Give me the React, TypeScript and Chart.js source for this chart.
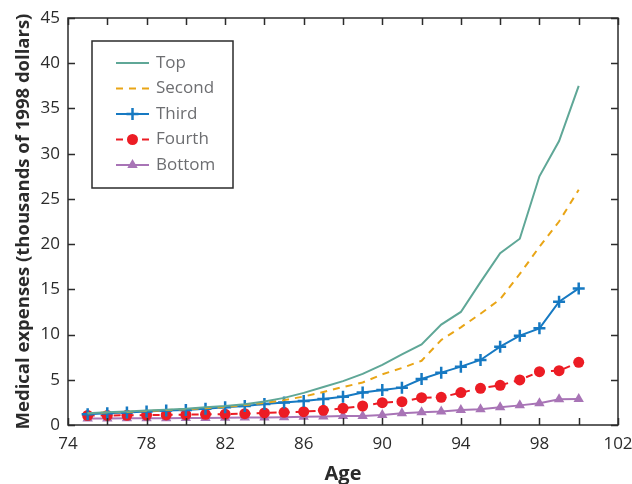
import React, { useEffect, useRef } from "react";
import { Chart, registerables } from "chart.js";

Chart.register(...registerables);

// Age at which expenses are measured
const ages = [75, 76, 77, 78, 79, 80, 81, 82, 83, 84, 85, 86, 87, 88, 89, 90, 91, 92, 93, 94, 95, 96, 97, 98, 99, 100];

// Medical expenses by income quintile (thousands of 1998 dollars)
const topQuintile = [1.3, 1.4, 1.5, 1.6, 1.7, 1.8, 1.95, 2.1, 2.3, 2.6, 3.0, 3.55, 4.2, 4.85, 5.65, 6.65, 7.8, 8.9, 11.1, 12.5, 15.8, 19.0, 20.6, 27.5, 31.4, 37.5];
const secondQuintile = [1.3, 1.4, 1.45, 1.55, 1.65, 1.75, 1.85, 2.0, 2.2, 2.45, 2.75, 3.15, 3.65, 4.2, 4.7, 5.6, 6.3, 7.1, 9.4, 10.8, 12.3, 13.9, 16.7, 19.7, 22.5, 26.0];
const thirdQuintile = [1.2, 1.29, 1.37, 1.48, 1.59, 1.66, 1.81, 1.95, 2.1, 2.32, 2.5, 2.65, 2.87, 3.13, 3.6, 3.87, 4.13, 5.09, 5.79, 6.45, 7.19, 8.66, 9.88, 10.69, 13.64, 15.1];
const fourthQuintile = [1.05, 1.06, 1.07, 1.1, 1.11, 1.14, 1.18, 1.2, 1.25, 1.33, 1.4, 1.47, 1.62, 1.84, 2.1, 2.47, 2.58, 3.02, 3.06, 3.58, 4.06, 4.39, 4.98, 5.9, 6.0, 6.93];
const bottomQuintile = [0.72, 0.73, 0.74, 0.75, 0.76, 0.77, 0.78, 0.8, 0.82, 0.84, 0.87, 0.9, 0.95, 1.0, 1.0, 1.1, 1.29, 1.4, 1.48, 1.66, 1.73, 1.95, 2.17, 2.4, 2.84, 2.87];

const seriesNames = ["Top", "Second", "Third", "Fourth", "Bottom"];

const xMin = 74;
const xMax = 102;
const yMin = 0;
const yMax = 45;

const FONT = "'Open Sans', 'Noto Sans', sans-serif";
const AXIS_COLOR = "#2b2b2b";

function toPoints(values: number[]) {
  return ages.map((a, i) => ({ x: a, y: values[i] }));
}

// Frame around the plot area with inward-pointing tick marks on all four sides
const framePlugin = {
  id: "frameTicks",
  afterDatasetsDraw(chart: any) {
    const { ctx, chartArea, scales } = chart;
    const { left, right, top, bottom } = chartArea;
    const len = 7;
    ctx.save();
    ctx.strokeStyle = AXIS_COLOR;
    ctx.lineWidth = 1.5;
    ctx.strokeRect(left, top, right - left, bottom - top);
    ctx.beginPath();
    for (const t of scales.x.ticks) {
      const px = Math.round(scales.x.getPixelForValue(t.value)) + 0.5;
      ctx.moveTo(px, bottom);
      ctx.lineTo(px, bottom - len);
      ctx.moveTo(px, top);
      ctx.lineTo(px, top + len);
    }
    for (const t of scales.y.ticks) {
      const py = Math.round(scales.y.getPixelForValue(t.value)) + 0.5;
      ctx.moveTo(left, py);
      ctx.lineTo(left + len, py);
      ctx.moveTo(right, py);
      ctx.lineTo(right - len, py);
    }
    ctx.stroke();
    ctx.restore();
  },
};

function drawMarker(ctx: CanvasRenderingContext2D, style: string, x: number, y: number, r: number, color: string) {
  ctx.save();
  ctx.fillStyle = color;
  ctx.strokeStyle = color;
  if (style === "circle") {
    ctx.beginPath();
    ctx.arc(x, y, r, 0, Math.PI * 2);
    ctx.fill();
  } else if (style === "cross") {
    ctx.lineWidth = 2.5;
    ctx.beginPath();
    ctx.moveTo(x - r, y);
    ctx.lineTo(x + r, y);
    ctx.moveTo(x, y - r);
    ctx.lineTo(x, y + r);
    ctx.stroke();
  } else if (style === "triangle") {
    const h = r * 1.5;
    ctx.beginPath();
    ctx.moveTo(x, y - r);
    ctx.lineTo(x + h / Math.sqrt(3), y - r + h);
    ctx.lineTo(x - h / Math.sqrt(3), y - r + h);
    ctx.closePath();
    ctx.fill();
  }
  ctx.restore();
}

// Boxed legend in the upper-left of the plot area
const legendPlugin = {
  id: "boxedLegend",
  afterDraw(chart: any) {
    const { ctx, chartArea } = chart;
    const boxX = chartArea.left + 24;
    const boxY = chartArea.top + 23;
    const boxW = 141;
    const boxH = 147;
    ctx.save();
    ctx.fillStyle = "#ffffff";
    ctx.fillRect(boxX, boxY, boxW, boxH);
    ctx.strokeStyle = AXIS_COLOR;
    ctx.lineWidth = 1.5;
    ctx.strokeRect(boxX, boxY, boxW, boxH);
    chart.data.datasets.forEach((ds: any, i: number) => {
      const cy = boxY + 22 + i * 25.5;
      const x0 = boxX + 24;
      const x1 = boxX + 57;
      ctx.save();
      ctx.strokeStyle = ds.borderColor;
      ctx.lineWidth = ds.borderWidth;
      ctx.setLineDash(ds.borderDash || []);
      ctx.beginPath();
      ctx.moveTo(x0, cy);
      ctx.lineTo(x1, cy);
      ctx.stroke();
      ctx.restore();
      if (ds.pointRadius > 0) {
        drawMarker(ctx, ds.pointStyle, (x0 + x1) / 2, cy, ds.pointRadius, ds.borderColor);
      }
      ctx.fillStyle = "#6d6e71";
      ctx.font = `17px ${FONT}`;
      ctx.textAlign = "left";
      ctx.textBaseline = "middle";
      ctx.fillText(ds.label, boxX + 64, cy);
    });
    ctx.restore();
  },
};

export default function App() {
  const canvasRef = useRef<HTMLCanvasElement | null>(null);

  useEffect(() => {
    if (!canvasRef.current) return;
    const chart = new Chart(canvasRef.current, {
      type: "line",
      data: {
        datasets: [
          {
            label: seriesNames[0],
            data: toPoints(topQuintile),
            borderColor: "#5fa797",
            backgroundColor: "#5fa797",
            borderWidth: 2,
            pointRadius: 0,
            fill: false,
          },
          {
            label: seriesNames[1],
            data: toPoints(secondQuintile),
            borderColor: "#e9a516",
            backgroundColor: "#e9a516",
            borderWidth: 2,
            borderDash: [7, 6],
            pointRadius: 0,
            fill: false,
          },
          {
            label: seriesNames[2],
            data: toPoints(thirdQuintile),
            borderColor: "#1679c2",
            backgroundColor: "#1679c2",
            borderWidth: 2,
            pointStyle: "cross",
            pointRadius: 6,
            pointBorderWidth: 2.5,
            fill: false,
          },
          {
            label: seriesNames[3],
            data: toPoints(fourthQuintile),
            borderColor: "#ec1c24",
            backgroundColor: "#ec1c24",
            borderWidth: 2,
            borderDash: [7, 6],
            pointStyle: "circle",
            pointRadius: 5.5,
            pointBorderWidth: 0,
            fill: false,
          },
          {
            label: seriesNames[4],
            data: toPoints(bottomQuintile),
            borderColor: "#a874b6",
            backgroundColor: "#a874b6",
            borderWidth: 2,
            pointStyle: "triangle",
            pointRadius: 6,
            pointBorderWidth: 0,
            fill: false,
          },
        ],
      },
      options: {
        animation: false,
        responsive: false,
        maintainAspectRatio: false,
        layout: { padding: { left: 0, right: 14, top: 18, bottom: 0 } },
        plugins: {
          legend: { display: false },
          tooltip: { enabled: false },
        },
        scales: {
          x: {
            type: "linear",
            min: xMin,
            max: xMax,
            grid: { display: false, drawTicks: false },
            border: { display: false },
            ticks: {
              stepSize: 2,
              autoSkip: false,
              maxRotation: 0,
              padding: 9,
              color: "#2b2b2b",
              font: { family: FONT, size: 17 },
              callback: (v: any) => (Number(v) % 4 === 2 ? String(v) : ""),
            },
            title: {
              display: true,
              text: "Age",
              color: "#2b2b2b",
              font: { family: FONT, size: 20, weight: "bold", lineHeight: 1 },
              padding: { top: 0, bottom: 0 },
            },
            afterFit: (scale: any) => {
              scale.height = 59;
              scale.paddingLeft = 0;
              scale.paddingRight = 0;
            },
          },
          y: {
            type: "linear",
            min: yMin,
            max: yMax,
            grid: { display: false, drawTicks: false },
            border: { display: false },
            ticks: {
              stepSize: 5,
              padding: 8,
              color: "#2b2b2b",
              font: { family: FONT, size: 17 },
            },
            title: {
              display: true,
              text: "Medical expenses (thousands of 1998 dollars)",
              color: "#2b2b2b",
              font: { family: FONT, size: 18.5, weight: "bold" },
              padding: { top: 13, bottom: 0 },
            },
            afterFit: (scale: any) => {
              scale.width = 68;
              scale.paddingTop = 0;
              scale.paddingBottom = 0;
            },
          },
        },
      },
      plugins: [framePlugin, legendPlugin],
    });
    return () => chart.destroy();
  }, []);

  return (
    <div style={{ position: "fixed", left: 0, top: 0, width: 632, height: 484, background: "#fff" }}>
      <canvas ref={canvasRef} width={632} height={484} style={{ width: 632, height: 484, display: "block" }} />
    </div>
  );
}
